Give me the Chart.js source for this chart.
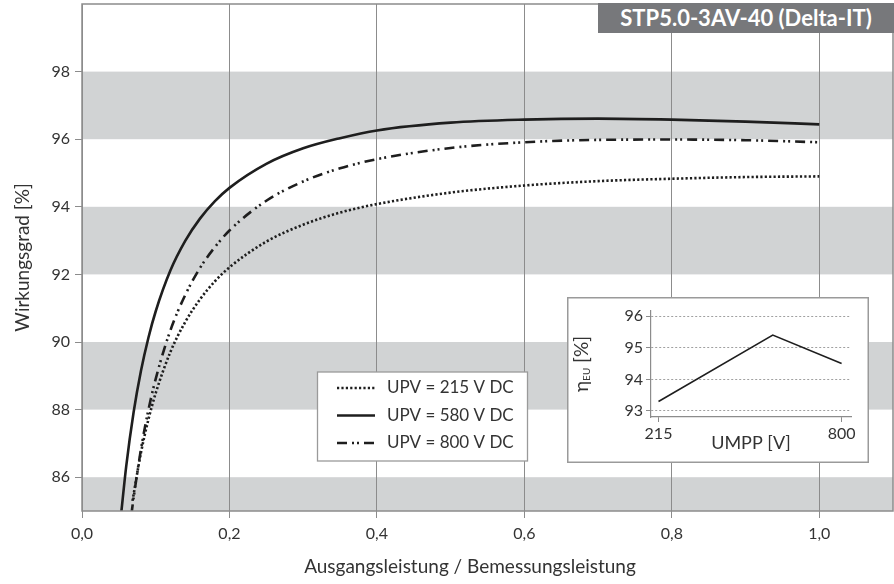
<!DOCTYPE html>
<html lang="de">
<head>
<meta charset="utf-8">
<script src="https://cdn.jsdelivr.net/npm/chart.js@4.4.1/dist/chart.umd.min.js"></script>
<style>
  html, body { margin: 0; padding: 0; background: #fff; }
  #wrap { position: relative; width: 894px; height: 584px; overflow: hidden; }
  #main { position: absolute; left: 0; top: 0; }
  #inset { position: absolute; left: 567px; top: 297px; background: #fff; }
  #title {
    position: absolute; left: 598px; top: 3px; width: 296px; height: 30px;
    background: #77787b; color: #fff; font: bold 22px Lato, sans-serif;
    text-align: center; line-height: 30px; white-space: nowrap;
  }
</style>
</head>
<body>
<div id="wrap">
  <canvas id="main" width="894" height="584"></canvas>
  <canvas id="inset" width="302" height="166"></canvas>
  <div id="title">STP5.0-3AV-40 (Delta-IT)</div>
</div>
<script>
// === Données ===
const loadTicks = [0, 0.2, 0.4, 0.6, 0.8, 1.0];
const effTicks = [86, 88, 90, 92, 94, 96, 98];
const greyBands = [[84, 86], [88, 90], [92, 94], [96, 98]];
const xTitle = 'Ausgangsleistung / Bemessungsleistung';

// UPV = 215 V DC (pointillé)
const load215 = [0.0685, 0.08, 0.09, 0.10, 0.12, 0.14, 0.16, 0.18, 0.20, 0.25, 0.30, 0.35, 0.40, 0.50, 0.60, 0.70, 0.80, 0.90, 1.00];
const eff215  = [85.30, 86.73, 87.70, 88.49, 89.71, 90.59, 91.26, 91.79, 92.21, 92.97, 93.47, 93.83, 94.08, 94.42, 94.63, 94.76, 94.83, 94.88, 94.90];

// UPV = 580 V DC (continu)
const load580 = [0.053, 0.06, 0.07, 0.08, 0.09, 0.10, 0.12, 0.14, 0.16, 0.18, 0.20, 0.25, 0.30, 0.35, 0.40, 0.50, 0.60, 0.70, 0.80, 0.90, 1.00];
const eff580  = [84.90, 86.33, 87.92, 89.15, 90.12, 90.91, 92.12, 92.99, 93.65, 94.16, 94.56, 95.27, 95.73, 96.03, 96.26, 96.49, 96.58, 96.61, 96.58, 96.52, 96.44];

// UPV = 800 V DC (tiret-point-point)
const load800 = [0.067, 0.07, 0.08, 0.09, 0.10, 0.12, 0.14, 0.16, 0.18, 0.20, 0.25, 0.30, 0.35, 0.40, 0.50, 0.60, 0.70, 0.80, 0.90, 1.00];
const eff800  = [84.90, 85.39, 86.83, 87.98, 88.91, 90.35, 91.39, 92.19, 92.80, 93.30, 94.18, 94.75, 95.14, 95.41, 95.74, 95.91, 95.98, 95.99, 95.97, 95.91];

const seriesLabels = ['UPV = 215 V DC', 'UPV = 580 V DC', 'UPV = 800 V DC'];

// Encart : rendement européen
const umpp = [215, 580, 800];
const etaEu = [93.3, 95.4, 94.5];
const umppTicks = [215, 800];
const etaTicks = [93, 94, 95, 96];

const FONT = 'Lato, "Noto Sans", sans-serif';
const TXT = '#333';
const GRID = '#8c8c8c';

const pts = (xs, ys) => xs.map((x, i) => ({ x: x, y: ys[i] }));

// pas de marge auto autour des axes
function noPad(s) {
  s.paddingTop = 0;
  s.paddingBottom = 0;
  s.paddingLeft = 0;
  s.paddingRight = 0;
}

// === Bandes grises + cadre + légende ===
const mainDecor = {
  id: 'mainDecor',
  beforeDraw(chart) {
    const { ctx, chartArea: a, scales: { y } } = chart;
    ctx.save();
    ctx.beginPath();
    ctx.rect(a.left, a.top, a.right - a.left, a.bottom - a.top);
    ctx.clip();
    ctx.fillStyle = '#d1d3d4';
    greyBands.forEach(b => {
      const y1 = y.getPixelForValue(b[1]);
      const y0 = y.getPixelForValue(b[0]);
      ctx.fillRect(a.left, y1, a.right - a.left, y0 - y1);
    });
    ctx.restore();
  },
  afterDatasetsDraw(chart) {
    const { ctx, chartArea: a } = chart;
    ctx.save();
    ctx.strokeStyle = GRID;
    ctx.lineWidth = 1.5;
    ctx.strokeRect(a.left, a.top, a.right - a.left, a.bottom - a.top);

    // légende
    ctx.fillStyle = '#fff';
    ctx.fillRect(317.5, 372, 210, 89);
    ctx.strokeStyle = '#9a9a9a';
    ctx.lineWidth = 1.3;
    ctx.strokeRect(317.5, 372, 210, 89);
    chart.data.datasets.forEach((ds, i) => {
      const yy = 388 + i * 27.5;
      ctx.beginPath();
      ctx.setLineDash(ds.borderDash || []);
      ctx.lineWidth = ds.borderWidth;
      ctx.strokeStyle = ds.borderColor;
      ctx.moveTo(337, yy);
      ctx.lineTo(375, yy);
      ctx.stroke();
      ctx.setLineDash([]);
      ctx.fillStyle = TXT;
      ctx.font = '17px ' + FONT;
      ctx.textBaseline = 'middle';
      ctx.fillText(ds.label, 387, yy);
    });

    // titre de l'axe x (centré comme dans l'original)
    ctx.font = '19px ' + FONT;
    ctx.textAlign = 'center';
    ctx.fillText(xTitle, 470, 567);
    ctx.restore();
  }
};

new Chart(document.getElementById('main'), {
  type: 'line',
  data: {
    datasets: [
      { label: seriesLabels[0], data: pts(load215, eff215), borderColor: '#1e1e1e', borderWidth: 2.6, borderDash: [2.2, 2.2] },
      { label: seriesLabels[1], data: pts(load580, eff580), borderColor: '#1e1e1e', borderWidth: 2.6 },
      { label: seriesLabels[2], data: pts(load800, eff800), borderColor: '#1e1e1e', borderWidth: 2.6, borderDash: [10, 5, 2, 3, 2, 5] }
    ]
  },
  options: {
    responsive: false,
    animation: false,
    parsing: false,
    layout: { padding: { top: 4, right: 1, left: 0, bottom: 0 } },
    elements: {
      point: { radius: 0 },
      line: { cubicInterpolationMode: 'monotone', fill: false }
    },
    plugins: { legend: { display: false }, tooltip: { enabled: false } },
    scales: {
      x: {
        type: 'linear', min: 0, max: 1.1,
        afterBuildTicks: s => { s.ticks = loadTicks.map(v => ({ value: v })); },
        afterFit: s => { s.height = 73; noPad(s); },
        grid: { color: GRID, lineWidth: 1, drawTicks: true, tickLength: 7, tickColor: GRID },
        border: { display: false },
        ticks: {
          color: TXT, padding: 6, maxRotation: 0,
          font: { family: FONT, size: 16 },
          callback: v => v.toFixed(1).replace('.', ',')
        },
        title: { display: false }
      },
      y: {
        type: 'linear', min: 85, max: 100,
        afterBuildTicks: s => { s.ticks = effTicks.map(v => ({ value: v })); },
        afterFit: s => { s.width = 82; noPad(s); },
        grid: { drawOnChartArea: false, drawTicks: true, tickLength: 7, tickColor: GRID, color: GRID },
        border: { display: false },
        ticks: { color: TXT, padding: 5, font: { family: FONT, size: 16 } },
        title: {
          display: true, text: 'Wirkungsgrad [%]', color: TXT,
          font: { family: FONT, size: 19 }, padding: { top: 11, bottom: 0 }
        }
      }
    }
  },
  plugins: [mainDecor]
});

// === Encart ===
const insetDecor = {
  id: 'insetDecor',
  beforeDraw(chart) {
    const { ctx, width, height } = chart;
    ctx.save();
    ctx.fillStyle = '#fff';
    ctx.fillRect(0, 0, width, height);
    ctx.strokeStyle = '#9a9a9a';
    ctx.lineWidth = 1.5;
    ctx.strokeRect(0.75, 0.75, width - 1.5, height - 1.5);
    ctx.restore();
  },
  afterDraw(chart) {
    const { ctx, chartArea: a } = chart;
    ctx.save();
    ctx.translate(15, (a.top + a.bottom) / 2);
    ctx.rotate(-Math.PI / 2);
    ctx.fillStyle = TXT;
    ctx.textBaseline = 'middle';
    ctx.font = '19px ' + FONT;
    const w1 = ctx.measureText('η').width;
    ctx.font = '10px ' + FONT;
    const w2 = ctx.measureText('EU').width;
    ctx.font = '19px ' + FONT;
    const w3 = ctx.measureText(' [%]').width;
    let x = -(w1 + w2 + w3) / 2;
    ctx.fillText('η', x, 0);
    x += w1;
    ctx.font = '10px ' + FONT;
    ctx.fillText('EU', x, 5);
    x += w2;
    ctx.font = '19px ' + FONT;
    ctx.fillText(' [%]', x, 0);
    ctx.restore();
  }
};

new Chart(document.getElementById('inset'), {
  type: 'line',
  data: {
    datasets: [{ data: pts(umpp, etaEu), borderColor: '#1e1e1e', borderWidth: 1.6, tension: 0 }]
  },
  options: {
    responsive: false,
    animation: false,
    parsing: false,
    layout: { padding: { top: 14, right: 18, left: 0, bottom: 0 } },
    elements: { point: { radius: 0 } },
    plugins: { legend: { display: false }, tooltip: { enabled: false } },
    scales: {
      x: {
        type: 'linear', min: 191, max: 830,
        afterBuildTicks: s => { s.ticks = umppTicks.map(v => ({ value: v })); },
        afterFit: s => { s.height = 46; noPad(s); },
        grid: { drawOnChartArea: false, drawTicks: true, tickLength: 5, tickColor: GRID },
        border: { display: true, color: GRID, width: 1.2 },
        ticks: { color: TXT, padding: 2, maxRotation: 0, font: { family: FONT, size: 16 } },
        title: {
          display: true, text: 'UMPP [V]', color: TXT,
          font: { family: FONT, size: 18 }, padding: { top: 0, bottom: 9 }
        }
      },
      y: {
        type: 'linear', min: 92.81, max: 96.16,
        afterBuildTicks: s => { s.ticks = etaTicks.map(v => ({ value: v })); },
        afterFit: s => { s.width = 84; noPad(s); },
        grid: { color: '#a0a0a0', lineWidth: 1, drawTicks: true, tickLength: 5, tickColor: GRID, tickBorderDash: [] },
        border: { display: true, color: GRID, width: 1.2, dash: [2, 2] },
        ticks: { color: TXT, padding: 3, font: { family: FONT, size: 16 } }
      }
    }
  },
  plugins: [insetDecor]
});
</script>
</body>
</html>
